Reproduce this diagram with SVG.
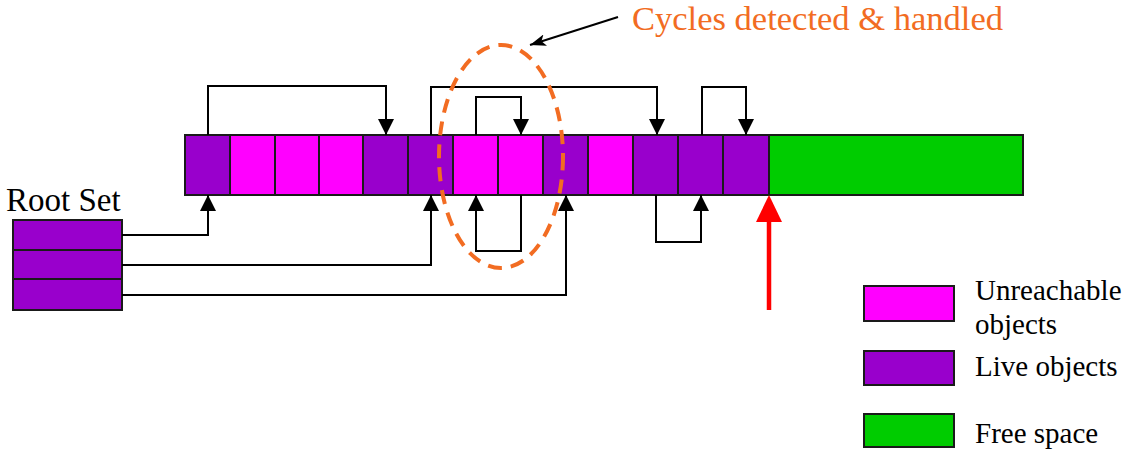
<svg xmlns="http://www.w3.org/2000/svg" width="1127" height="449" viewBox="0 0 1127 449">
  <style>
    .cell { stroke: #1a1a1a; stroke-width: 2; }
    .live { fill: #9900CC; }
    .dead { fill: #FF00FF; }
    .free { fill: #00CC00; }
    .link { fill: none; stroke: #000; stroke-width: 2; }
    .lbl { font-family: "Liberation Serif", "Times New Roman", serif; fill: #000; }
    .note { font-family: "Liberation Serif", "Times New Roman", serif; fill: #F26C22; }
  </style>
  <defs>
    <marker id="head" markerUnits="userSpaceOnUse" viewBox="0 0 16 16" markerWidth="16" markerHeight="16" refX="16" refY="8" orient="auto">
      <path d="M0,0 L16,8 L0,16 z" fill="#000"/>
    </marker>
    <marker id="thin" markerUnits="userSpaceOnUse" viewBox="0 0 16 12" markerWidth="16" markerHeight="12" refX="16" refY="6" orient="auto">
      <path d="M0,0 L16,6 L0,12 L4,6 z" fill="#000"/>
    </marker>
  </defs>

  <rect width="1127" height="449" fill="#fff"/>

  <!-- heap cells -->
  <g id="heap">
    <g id="cell0"><rect class="cell live" x="185" y="135" width="45" height="60"/></g>
    <g id="cell1"><rect class="cell dead" x="230" y="135" width="45" height="60"/></g>
    <g id="cell2"><rect class="cell dead" x="275" y="135" width="44" height="60"/></g>
    <g id="cell3"><rect class="cell dead" x="319" y="135" width="44" height="60"/></g>
    <g id="cell4"><rect class="cell live" x="363" y="135" width="45" height="60"/></g>
    <g id="cell5"><rect class="cell live" x="408" y="135" width="45" height="60"/></g>
    <g id="cell6"><rect class="cell dead" x="453" y="135" width="45" height="60"/></g>
    <g id="cell7"><rect class="cell dead" x="498" y="135" width="45" height="60"/></g>
    <g id="cell8"><rect class="cell live" x="543" y="135" width="45" height="60"/></g>
    <g id="cell9"><rect class="cell dead" x="588" y="135" width="45" height="60"/></g>
    <g id="cell10"><rect class="cell live" x="633" y="135" width="45" height="60"/></g>
    <g id="cell11"><rect class="cell live" x="678" y="135" width="45" height="60"/></g>
    <g id="cell12"><rect class="cell live" x="723" y="135" width="46" height="60"/></g>
    <g id="free-block"><rect class="cell free" x="769" y="135" width="254" height="60"/></g>
  </g>

  <!-- root set -->
  <g id="root-set">
    <text class="lbl" x="6" y="211" font-size="33">Root Set</text>
    <rect class="cell live" x="13" y="220" width="109" height="30"/>
    <rect class="cell live" x="13" y="250" width="109" height="29"/>
    <rect class="cell live" x="13" y="279" width="109" height="31"/>
  </g>

  <!-- references between objects -->
  <g id="connectors">
    <path class="link" d="M208,135 V86 H386 V135" marker-end="url(#head)"/>
    <path class="link" d="M431,135 V87 H657 V135" marker-end="url(#head)"/>
    <path class="link" d="M476,135 V97 H521 V135" marker-end="url(#head)"/>
    <path class="link" d="M702,135 V87 H746 V135" marker-end="url(#head)"/>
    <path class="link" d="M521,195 V251 H476 V195" marker-end="url(#head)"/>
    <path class="link" d="M656,195 V242 H701 V195" marker-end="url(#head)"/>
    <path class="link" d="M122,235 H208 V195" marker-end="url(#head)"/>
    <path class="link" d="M122,265 H431 V195" marker-end="url(#head)"/>
    <path class="link" d="M122,295 H566 V195" marker-end="url(#head)"/>
    <path class="link" d="M618,17 L530,45" marker-end="url(#thin)"/>
  </g>

  <!-- allocation pointer -->
  <g id="alloc-pointer">
    <line x1="769" y1="310" x2="769" y2="220" stroke="#FF0000" stroke-width="4.5"/>
    <polygon points="769,195 782,222 756,222" fill="#FF0000"/>
  </g>

  <!-- cycle annotation -->
  <g id="cycle">
    <ellipse cx="501" cy="156.5" rx="62" ry="111.5" fill="none" stroke="#F26C22" stroke-width="4" stroke-dasharray="14 9"/>
    <text class="note" x="632" y="30" font-size="34" textLength="371" lengthAdjust="spacingAndGlyphs">Cycles detected &amp; handled</text>
  </g>

  <!-- legend -->
  <g id="legend-unreachable">
    <rect class="cell dead" x="864" y="286" width="90" height="35"/>
    <text class="lbl" x="975" y="300" font-size="29">Unreachable</text>
    <text class="lbl" x="975" y="334" font-size="29">objects</text>
  </g>
  <g id="legend-live">
    <rect class="cell live" x="864" y="351" width="90" height="34"/>
    <text class="lbl" x="975" y="376" font-size="29">Live objects</text>
  </g>
  <g id="legend-free">
    <rect class="cell free" x="864" y="414" width="90" height="33"/>
    <text class="lbl" x="975" y="443" font-size="29">Free space</text>
  </g>
</svg>
